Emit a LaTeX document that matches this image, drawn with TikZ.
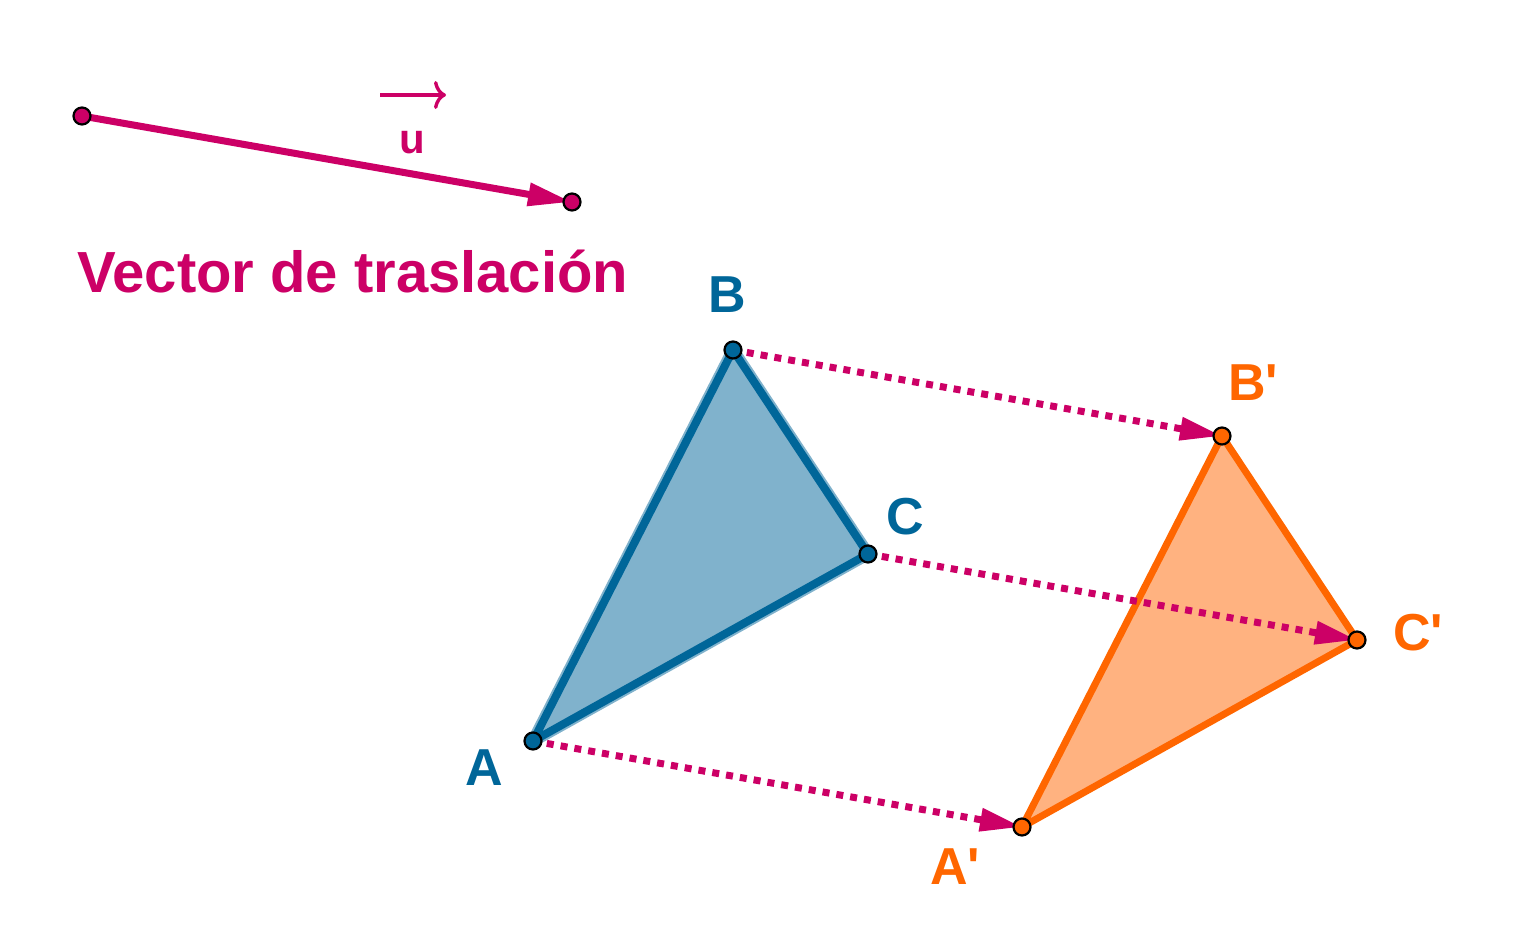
\documentclass[tikz,border=0pt]{standalone}
\usepackage{fontspec}
\setmainfont{Liberation Sans}
\usepackage{tikz}
\usetikzlibrary{calc,arrows.meta}

\definecolor{vecCol}{HTML}{CC0066}
\definecolor{origCol}{HTML}{006699}
\definecolor{imgCol}{HTML}{FF6600}

\begin{document}
\begin{tikzpicture}[x=0.5pt,y=-0.5pt,font=\bfseries]
\pgfmathsetmacro{\uX}{489}
\pgfmathsetmacro{\uY}{86}

\tikzstyle{pt}=[circle,draw=black,line width=1.1pt,inner sep=0pt,minimum size=8.5pt]
\tikzstyle{transl}=[vecCol,line width=3.5pt,dash pattern=on 3.5pt off 3.5pt,-{Triangle[length=21pt,width=11pt]}]
\tikzstyle{lbl}=[font=\fontsize{26}{26}\bfseries\selectfont]
\useasboundingbox (0,0) rectangle (1528,942);

% vector u
\coordinate (U0) at (82,116);
\coordinate (U1) at (572,202);
\draw[vecCol,line width=3.5pt,-{Triangle[length=22pt,width=11pt]}] (U0) -- (U1);
\node[pt,fill=vecCol] at (U0) {};
\node[pt,fill=vecCol] at (U1) {};
\node[vecCol,font=\fontsize{21}{21}\bfseries\selectfont] (uName) at (412,143) {u};
\coordinate (uArrL) at (380,95);
\coordinate (uArrR) at (446,95);
\draw[vecCol,line width=1.7pt,-{To[length=6pt,width=14pt]}] (uArrL) -- (uArrR);
\node[vecCol,font=\fontsize{29}{29}\bfseries\selectfont,anchor=west] (title) at (70,272) {Vector de traslación};

% original triangle
\coordinate (A) at (533,741);
\coordinate (B) at (733,350);
\coordinate (C) at (868,554);
% translated triangle
\coordinate (A') at ($(A)+(\uX,\uY)$);
\coordinate (B') at ($(B)+(\uX,\uY)$);
\coordinate (C') at ($(C)+(\uX,\uY)$);

\filldraw[fill=origCol!50,draw=origCol!50,line width=6pt,line join=round] (A) -- (B) -- (C) -- cycle;
\draw[origCol,line width=4pt,line join=round] (A) -- (B) -- (C) -- cycle;
\fill[imgCol!50] (A') -- (B') -- (C') -- cycle;
\draw[imgCol,line width=3.5pt,line join=round] (A') -- (B') -- (C') -- cycle;

\draw[transl] (A) -- (A');
\draw[transl] (B) -- (B');
\draw[transl] (C) -- (C');

\foreach \p in {A,B,C}{
  \node[pt,fill=origCol] at (\p) {};
  \node[pt,fill=imgCol] at (\p') {};
}

\node[origCol,lbl] (labA) at (484,768) {A};
\node[origCol,lbl] (labB) at (727,295) {B};
\node[origCol,lbl] (labC) at (905,517) {C};
\node[imgCol,lbl] (labA') at (955,867) {A\textquotesingle};
\node[imgCol,lbl] (labB') at (1253,383) {B\textquotesingle};
\node[imgCol,lbl] (labC') at (1418,633) {C\textquotesingle};
\end{tikzpicture}
\end{document}
